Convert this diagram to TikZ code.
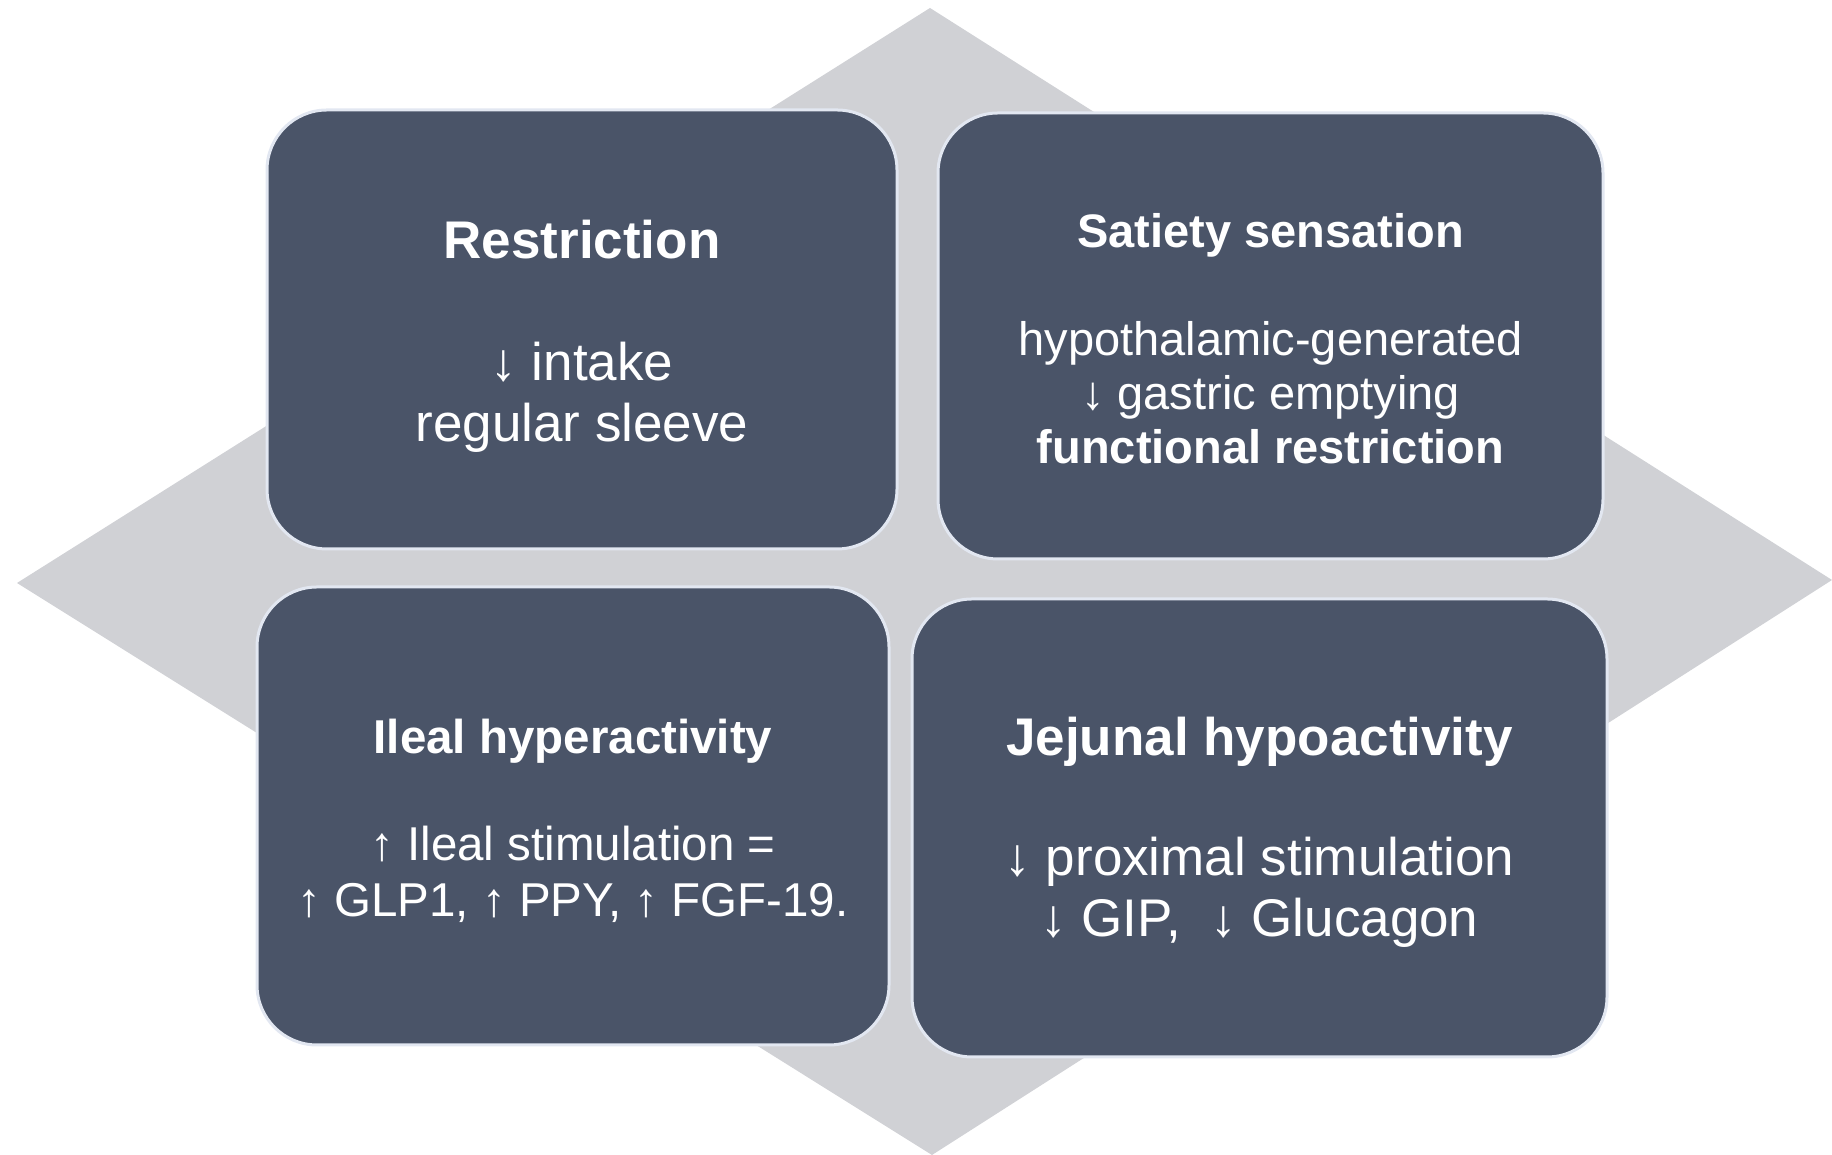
\documentclass[tikz,border=0pt]{standalone}
\usepackage{fontspec}
\setmainfont{Liberation Sans}
\definecolor{slate}{RGB}{74,84,104}
\definecolor{diamondgray}{RGB}{208,209,213}
\definecolor{rim}{RGB}{226,231,241}

\begin{document}
\begin{tikzpicture}[x=1pt, y=1pt,
    every node/.style={rounded corners=60pt, fill=slate, draw=rim, line width=3pt,
      text=white, align=center, inner sep=0pt},
    large text/.style={font=\fontsize{53}{61}\selectfont},
    small text/.style={font=\fontsize{47}{54}\selectfont}]
  \useasboundingbox (0,0) rectangle (1832,1155);
  % grey diamond behind the boxes
  \fill[diamondgray] (930,1147) -- (17,572) -- (932,0) -- (1832,575) -- cycle;
  % the rule in each title lowers the text a little in its box
  \node[large text, minimum width=630pt, minimum height=439pt] (restriction) at (582,825.5)
    {\textbf{Restriction}\rule{0pt}{52.5pt}\\[61pt] ↓ intake\\ regular sleeve};
  \node[small text, minimum width=665pt, minimum height=446pt] (satiety) at (1270.5,819)
    {\textbf{Satiety sensation}\rule{0pt}{39pt}\\[54pt] hypothalamic-generated\\ ↓ gastric emptying\\ \textbf{functional restriction}};
  \node[small text, font=\fontsize{47.5}{56}\selectfont, minimum width=632pt, minimum height=458pt] (ileal) at (573,339)
    {\textbf{Ileal hyperactivity}\rule{0pt}{44pt}\\[51pt] ↑ Ileal stimulation =\\ ↑ GLP1, ↑ PPY, ↑ FGF-19.};
  \node[large text, minimum width=695pt, minimum height=458pt] (jejunal) at (1259.5,327)
    {\textbf{Jejunal hypoactivity}\rule{0pt}{48pt}\\[59pt] ↓ proximal stimulation\\ ↓ GIP, ~↓ Glucagon};
\end{tikzpicture}
\end{document}
